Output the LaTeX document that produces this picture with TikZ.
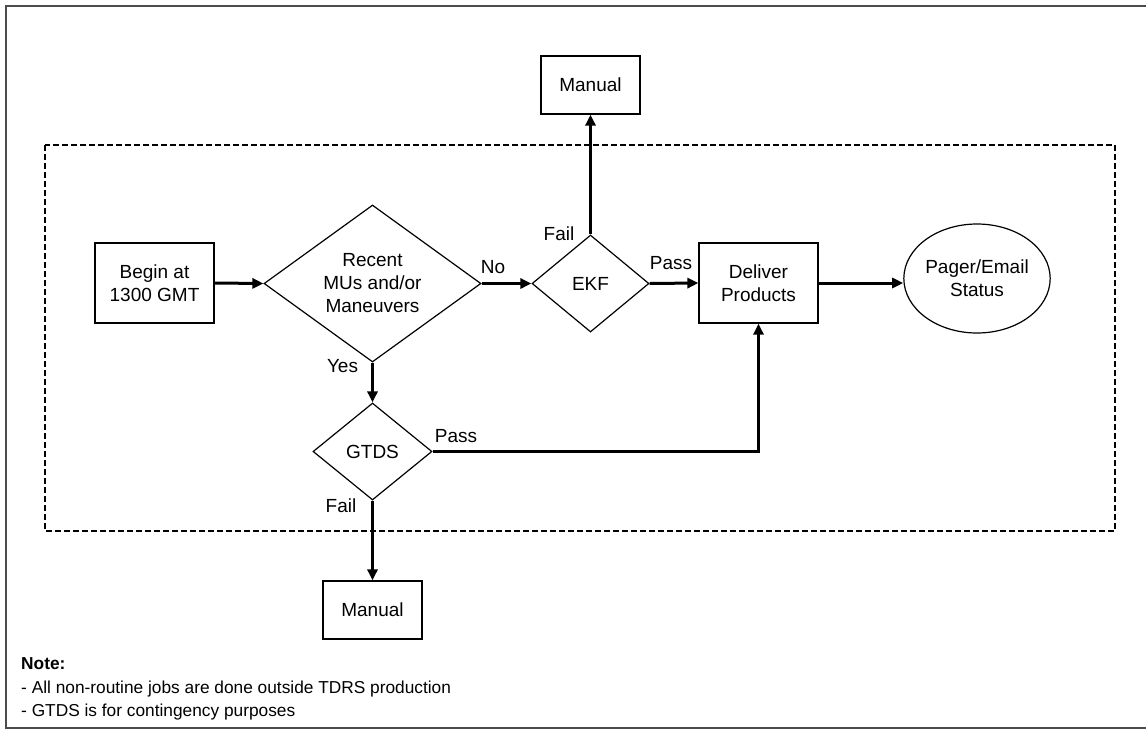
\documentclass[tikz,border=0pt]{standalone}
\usepackage{fontspec}
\setmainfont{Liberation Sans}
\usetikzlibrary{shapes.geometric,arrows.meta}
\begin{document}
\begin{tikzpicture}[x=1pt,y=-1pt,
  txt/.style={font=\fontsize{19}{23}\selectfont},
  box/.style={txt,draw,line width=1.2pt,rectangle,inner sep=0pt,align=center},
  dia/.style={txt,draw,line width=1.2pt,diamond,inner sep=0pt,align=center},
  conn/.style={line width=3pt,-{Triangle[length=11pt,width=10pt]}},
  lab/.style={txt,anchor=base,inner sep=0pt},
  notetxt/.style={font=\fontsize{17.3}{23}\selectfont,anchor=base west,inner sep=0pt}]
\useasboundingbox (0,0) rectangle (1146,729);
\draw[line width=1.6pt,color=black!70] (6,6) rectangle (1152,728);
\draw[line width=2.5pt,dash pattern=on 6pt off 3pt] (45,145) rectangle (1115,531);

\node[box,minimum width=119pt,minimum height=80pt] (begin) at (154.5,283) {Begin at\\1300 GMT};
\node[dia,minimum width=217pt,minimum height=157pt,aspect=1.38] (recent) at (372.5,283.5) {Recent\\MUs and/or\\Maneuvers};
\node[dia,minimum width=117pt,minimum height=97pt] (ekf) at (590.5,283.5) {EKF};
\node[box,minimum width=99pt,minimum height=58pt] (manual1) at (590.5,85) {Manual};
\node[box,minimum width=119pt,minimum height=80pt] (deliver) at (758.5,283) {Deliver\\Products};
\node[txt,draw,line width=1.2pt,ellipse,inner sep=0pt,align=center,minimum width=140pt,minimum height=109pt] (pager) at (977,278.5) {Pager/Email\\Status};
\node[dia,minimum width=119pt,minimum height=97pt] (gtds) at (372.5,451.5) {GTDS};
\node[box,minimum width=99pt,minimum height=58pt] (manual2) at (372.5,610) {Manual};

\draw[conn] (begin.east) -- (recent.west);
\draw[conn] (recent.east) -- (ekf.west);
\draw[conn] (ekf.north) -- (manual1.south);
\draw[conn] (ekf.east) -- (deliver.west);
\draw[conn] (deliver.east) -- (deliver.east -| pager.west);
\draw[conn] (recent.south) -- (gtds.north);
\draw[conn] (gtds.east) -| (deliver.south);
\draw[conn] (gtds.south) -- (manual2.north);

\node[lab] (lno) at (493,273) {No};
\node[lab] (lfail1) at (559,240) {Fail};
\node[lab] (lpass1) at (671,269) {Pass};
\node[lab] (lyes) at (342.5,372) {Yes};
\node[lab] (lpass2) at (456,442) {Pass};
\node[lab] (lfail2) at (341,512) {Fail};

\node[notetxt] (note1) at (21,669) {\textbf{Note:}};
\node[notetxt] (note2) at (21,693) {- All non-routine jobs are done outside TDRS production};
\node[notetxt] (note3) at (21,716) {- GTDS is for contingency purposes};
\end{tikzpicture}
\end{document}
